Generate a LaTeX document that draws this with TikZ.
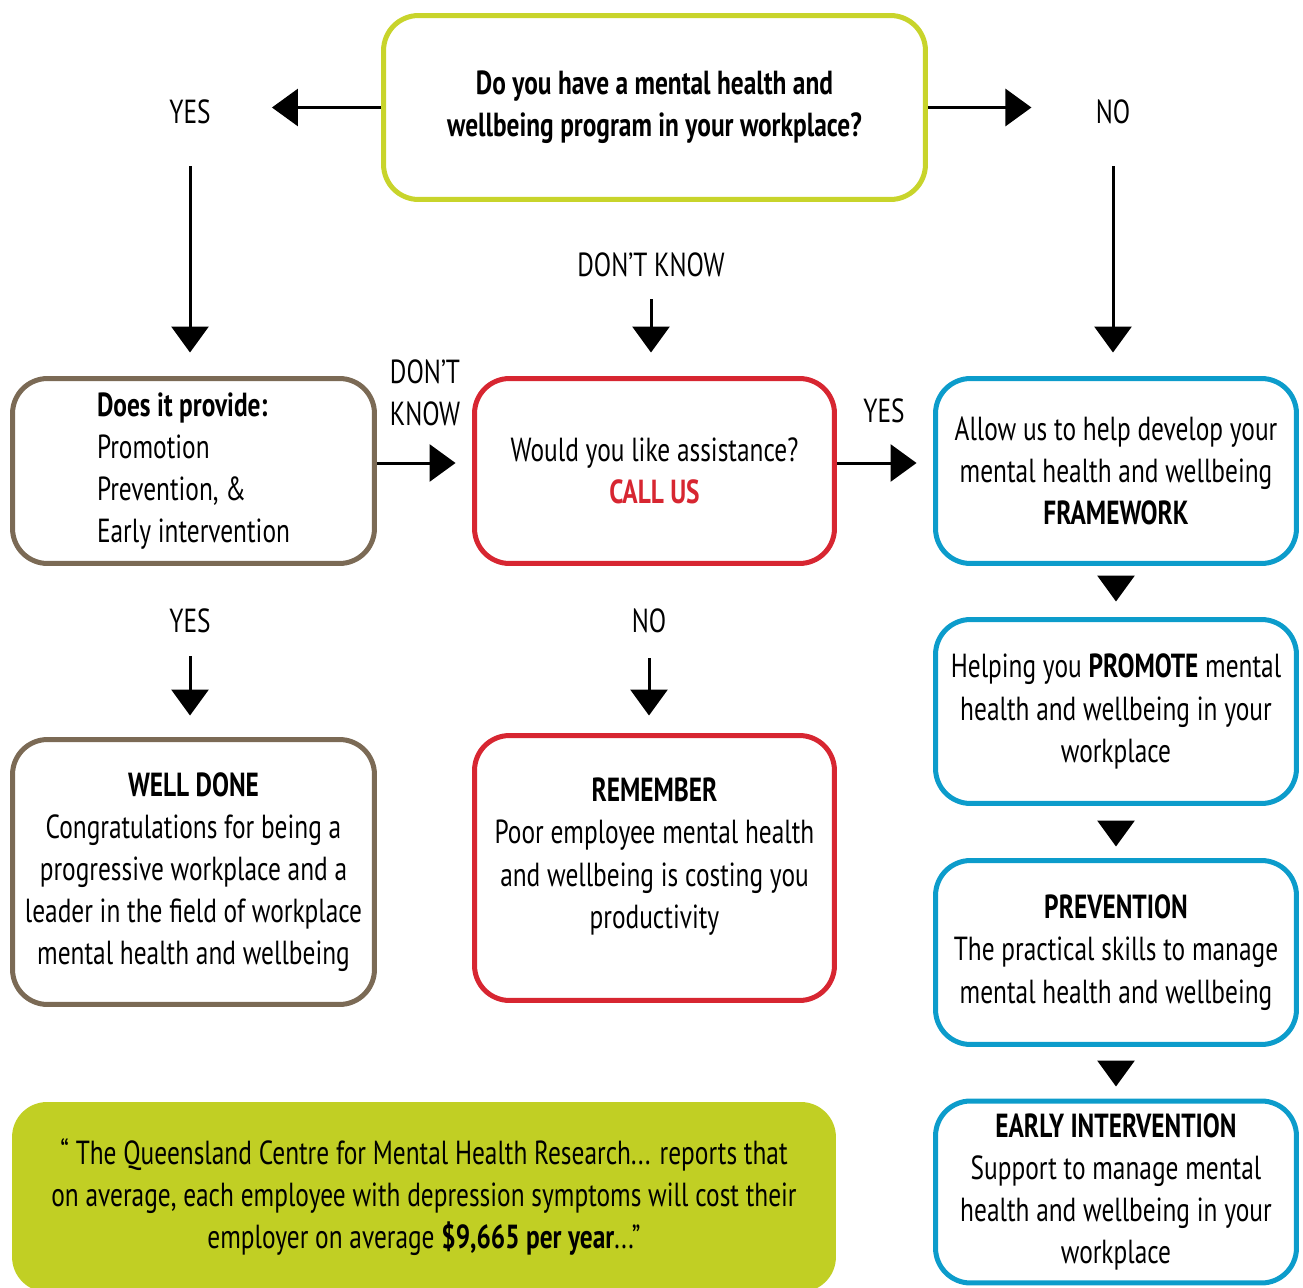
\documentclass[tikz,border=0pt]{standalone}
\usepackage{fontspec}
\setmainfont[FakeStretch=0.76]{PT Sans}
\usepackage{tikz}
\usetikzlibrary{arrows.meta}
\definecolor{qlime}{HTML}{C8D42B}
\definecolor{quotefill}{HTML}{C1CF24}
\definecolor{provbrown}{HTML}{7B6A55}
\definecolor{callred}{HTML}{D72631}
\definecolor{fwblue}{HTML}{0C9CCB}
\newcommand{\fsz}{\fontsize{19}{24}\selectfont}
\tikzset{
box/.style={draw, line width=0.1cm, rounded corners=0.7cm, align=center, inner sep=0pt, font=\fsz},
lab/.style={inner sep=0pt, font=\fsz},
arr/.style={line width=0.06cm, -{Triangle[length=0.52cm, width=0.74cm]}},
tri/.style={line width=0.06cm, -{Triangle[length=0.52cm, width=0.74cm]}}
}

\begin{document}
\begin{tikzpicture}[x=0.02cm, y=-0.02cm]
\useasboundingbox (0,0) rectangle (1303,1288);

    \node[box, draw=qlime, minimum width=10.84cm, minimum height=3.68cm, font=\fsz\bfseries] (q) at (654.5,107.5) {Do you have a mental health and\\wellbeing program in your workplace?};
    \node[box, draw=provbrown, minimum width=7.24cm, minimum height=3.7cm, align=left] (prov) at (193.5,471) {\textbf{Does it provide:}\\Promotion\\Prevention, \&\\Early intervention};
    \node[box, draw=callred, minimum width=7.2cm, minimum height=3.7cm] (as) at (654.5,471) {Would you like assistance?\\\textcolor{callred}{\textbf{CALL US}}};
    \node[box, draw=fwblue, minimum width=7.22cm, minimum height=3.7cm] (fw) at (1116,471) {Allow us to help develop your\\mental health and wellbeing\\\textbf{FRAMEWORK}};
    \node[box, draw=fwblue, minimum width=7.22cm, minimum height=3.68cm] (pro) at (1116,711.5) {Helping you \textbf{PROMOTE} mental\\health and wellbeing in your\\workplace};
    \node[box, draw=fwblue, minimum width=7.22cm, minimum height=3.68cm] (prev) at (1116,952.5) {\textbf{PREVENTION}\\The practical skills to manage\\mental health and wellbeing};
    \node[box, draw=fwblue, minimum width=7.22cm, minimum height=3.64cm] (early) at (1116,1192) {\textbf{EARLY INTERVENTION}\\Support to manage mental\\health and wellbeing in your\\workplace};
    \node[box, draw=provbrown, minimum width=7.24cm, minimum height=5.3cm] (well) at (193.5,872) {\textbf{WELL DONE}\\Congratulations for being a\\progressive workplace and a\\leader in the field of workplace\\mental health and wellbeing};
    \node[box, draw=callred, minimum width=7.2cm, minimum height=5.3cm] (rem) at (654.5,868) {\textbf{REMEMBER}\\Poor employee mental health\\and wellbeing is costing you\\productivity\\[-0.25cm]};
    \node[box, draw=none, fill=quotefill, minimum width=16.48cm, minimum height=3.8cm] (quote) at (424,1197) {“ The Queensland Centre for Mental Health Research... reports that\\on average, each employee with depression symptoms will cost their\\employer on average \textbf{\$9,665 per year}...”};

    \node[lab] (yesl) at (190,112) {YES};
    \node[lab] (nol) at (1113,112) {NO};
    \node[lab] (dk) at (651,265) {DON’T KNOW};
    \node[lab, align=center] (dkl) at (425,393) {DON’T\\KNOW};
    \node[lab] (yesr) at (884,411) {YES};
    \node[lab] (yesw) at (190,621) {YES};
    \node[lab] (nor) at (649,621) {NO};

    \draw[arr, shorten >=1.22cm] (q.west) -- (yesl.east |- q.west);
    \draw[arr, shorten >=1.28cm] (q.east) -- (nol.west |- q.east);
    \draw[arr, shorten <=0.84cm, shorten >=0.47cm] (yesl.south) -- (yesl.south |- prov.north);
    \draw[arr, shorten <=0.84cm, shorten >=0.47cm] (nol.south) -- (nol.south |- fw.north);
    \draw[arr, shorten <=0.44cm, shorten >=0.47cm] (dk.south) -- (dk.south |- as.north);
    \draw[arr, shorten >=0.33cm] ([yshift=0.16cm]prov.east) -- ([yshift=0.16cm]as.west);
    \draw[arr, shorten >=0.33cm] ([yshift=0.16cm]as.east) -- ([yshift=0.16cm]fw.west);
    \draw[arr, shorten <=0.46cm, shorten >=0.43cm] (yesw.south) -- (yesw.south |- well.north);
    \draw[arr, shorten <=0.5cm, shorten >=0.35cm] (nor.south) -- (nor.south |- rem.north);

    \draw[tri, shorten <=0.29cm, shorten >=0.31cm] (fw.south) -- (pro.north);
    \draw[tri, shorten <=0.39cm, shorten >=0.23cm] (pro.south) -- (prev.north);
    \draw[tri, shorten <=0.37cm, shorten >=0.24cm] (prev.south) -- (early.north);

\end{tikzpicture}
\end{document}
